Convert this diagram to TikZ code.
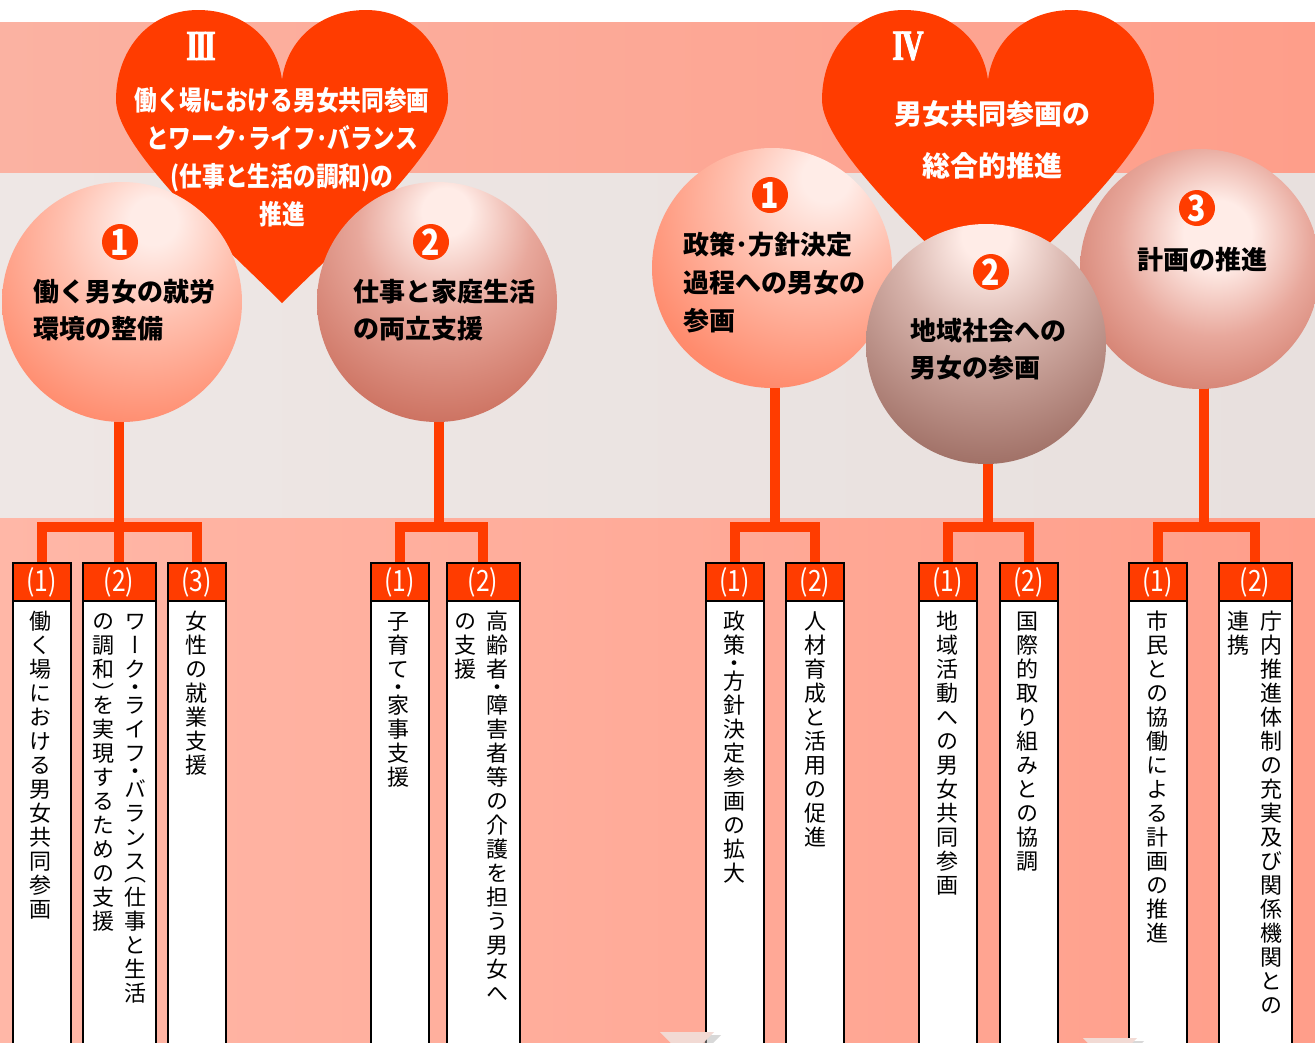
\documentclass[tikz,border=0pt]{standalone}
\usepackage{fontspec}
\usepackage{graphicx}
\usetikzlibrary{calc,backgrounds}

\newfontfamily\jp{Noto Sans CJK JP}
\newfontfamily\jpn{Noto Sans CJK JP}[FakeStretch=0.84]
\newfontfamily\jpv{Noto Sans CJK JP}[RawFeature=+vert]
\newfontfamily\romf{Liberation Serif}[FakeStretch=0.7, FakeBold=2]

\definecolor{heartred}{RGB}{255,60,0}
\definecolor{topL}{RGB}{251,178,162}
\definecolor{topR}{RGB}{254,158,138}
\definecolor{midL}{RGB}{238,231,229}
\definecolor{midR}{RGB}{232,224,222}
\definecolor{lowL}{RGB}{255,183,167}
\definecolor{lowR}{RGB}{255,158,138}
\definecolor{ballhi}{RGB}{255,236,231}
\definecolor{salmonmid}{RGB}{255,192,175}
\definecolor{salmonside}{RGB}{255,140,110}
\definecolor{salmonlo}{RGB}{250,108,78}
\definecolor{rosemid}{RGB}{232,168,156}
\definecolor{roseside}{RGB}{205,115,98}
\definecolor{roselo}{RGB}{175,82,64}
\definecolor{brownmid}{RGB}{214,178,170}
\definecolor{brownside}{RGB}{160,112,102}
\definecolor{brownlo}{RGB}{112,74,64}
\definecolor{paletri}{RGB}{242,218,212}

% ball shadings, light spot shifted up
\pgfdeclareradialshading{ballA}{\pgfpoint{7bp}{18bp}}{color(0bp)=(ballhi); color(5bp)=(ballhi); color(18bp)=(salmonmid); color(36bp)=(salmonside); color(54bp)=(salmonlo); color(80bp)=(salmonlo)}
\pgfdeclareradialshading{ballB}{\pgfpoint{2bp}{20bp}}{color(0bp)=(ballhi); color(5bp)=(ballhi); color(18bp)=(rosemid); color(36bp)=(roseside); color(54bp)=(roselo); color(80bp)=(roselo)}
\pgfdeclareradialshading{ballC}{\pgfpoint{12bp}{20bp}}{color(0bp)=(ballhi); color(5bp)=(ballhi); color(18bp)=(salmonmid); color(36bp)=(salmonside); color(54bp)=(salmonlo); color(80bp)=(salmonlo)}
\pgfdeclareradialshading{ballD}{\pgfpoint{0bp}{24bp}}{color(0bp)=(ballhi); color(5bp)=(ballhi); color(18bp)=(brownmid); color(38bp)=(brownside); color(58bp)=(brownlo); color(80bp)=(brownlo)}
\pgfdeclareradialshading{ballE}{\pgfpoint{4bp}{8bp}}{color(0bp)=(ballhi); color(7bp)=(ballhi); color(20bp)=(rosemid); color(36bp)=(roseside); color(50bp)=(roselo); color(80bp)=(roselo)}

% vertical writing: one cell per character, half cells for ・ （ ）
\newcommand\vcell[3]{\vbox to #1{\vss\hbox to 20pt{\hss\smash{#3}\hss}\kern#2}}
\def\vpick#1{%
  \ifx#1・\vcell{9pt}{-.107em}{#1}%
  \else\ifx#1（\vcell{9pt}{.165em}{#1}%
  \else\ifx#1）\vcell{9pt}{-.38em}{#1}%
  \else\vcell{18pt}{.165em}{#1}\fi\fi\fi}
\def\vloop#1{\ifx#1\relax\else\vpick{#1}\expandafter\vloop\fi}
\newcommand\vtext[1]{\vbox{\offinterlineskip\expandafter\vloop#1\relax}}

\begin{document}
\begin{tikzpicture}[x=0.75pt, y=-0.75pt,
    stem/.style={draw=heartred, line width=7.5pt},
    ball/.style={circle, minimum size=180pt, inner sep=0pt, shade},
    num/.style={circle, fill=heartred, text=white, minimum size=27pt, inner sep=0pt, font=\jpn\bfseries\fontsize{27}{27}\selectfont},
    rom/.style={text=white, inner sep=0pt, font=\romf\bfseries\fontsize{32}{32}\selectfont},
    balltxt/.style={anchor=west, align=left, inner sep=0pt, font=\jp\bfseries\fontsize{19.5}{27.75}\selectfont},
    hearttxt/.style={align=center, text=white, inner sep=0pt},
    hdr/.style={draw=black, line width=1.5pt, fill=heartred, text=white, minimum height=28.5pt, inner sep=0pt, outer sep=0pt, font=\jpn\fontsize{22}{22}\selectfont},
    body/.style={draw=black, line width=1.5pt, fill=white, minimum height=345pt, anchor=north, outer sep=0pt},
    narrow/.style={minimum width=43.5pt},
    wide/.style={minimum width=54.75pt},
    vtxt/.style={anchor=north, inner sep=0pt, font=\jpv\fontsize{16.5}{18}\selectfont}
]
\useasboundingbox (0,0) rectangle (1315,1043);

% bands and hearts
\begin{scope}[on background layer]
\fill[white] (0,0) rectangle (1315,22);
\shade[left color=topL, right color=topR] (0,22) rectangle (1315,173);
\shade[left color=midL, right color=midR] (0,173) rectangle (1315,518);
\shade[left color=lowL, right color=lowR] (0,518) rectangle (1315,1043);
\foreach \hx in {0,706} {
    \fill[heartred, shift={(\hx,0)}] (282,303) .. controls (234,255) and (116,150) .. (116,100)
        .. controls (116,50) and (149,10) .. (198,10) .. controls (244,10) and (277,40) .. (282,80)
        .. controls (287,40) and (320,10) .. (366,10) .. controls (415,10) and (448,50) .. (448,100)
        .. controls (448,150) and (330,255) .. (282,303) -- cycle;
}
\end{scope}

% heart texts
\node[rom] (r3) at (201,46) {I\kern-2pt I\kern-2pt I};
\node[hearttxt, font=\jpn\bfseries\fontsize{20.25}{28.5}\selectfont] (t3) at (282,157) {働く場における男女共同参画\\とワーク･ライフ･バランス\\(仕事と生活の調和)の\\推進};
\node[rom] (r4) at (908,46) {I\kern-1.5pt V};
\node[hearttxt, font=\jp\bfseries\fontsize{21}{39}\selectfont] (t4) at (992,140) {男女共同参画の\\総合的推進};

% balls
\node[ball, shading=ballA] (b31) at (122,302) {};
\node[ball, shading=ballB] (b32) at (437,302) {};
\node[ball, shading=ballC] (b41) at (772,268) {};
\node[ball, shading=ballE] (b43) at (1200,269) {};
\node[ball, shading=ballD] (b42) at (986,344) {};

\node[num] (n31) at (120,242) {1};
\node[num] (n32) at (431,242) {2};
\node[num] (n41) at (770,195) {1};
\node[num] (n42) at (991,272) {2};
\node[num] (n43) at (1197,208) {3};

\node[balltxt] (l31) at (33,310.5) {働く男女の就労\\環境の整備};
\node[balltxt] (l32) at (353,310.5) {仕事と家庭生活\\の両立支援};
\node[balltxt, font=\jp\bfseries\fontsize{19.5}{28.5}\selectfont] (l41) at (683,282.5) {政策･方針決定\\過程への男女の\\参画};
\node[balltxt] (l42) at (910,349.5) {地域社会への\\男女の参画};
\node[balltxt] (l43) at (1137,260) {計画の推進};

% measure boxes
\foreach \n/\x/\w/\k in {31a/41.5/narrow/1, 31b/119/wide/2, 31c/196.5/narrow/3, 32a/399.5/narrow/1, 32b/483/wide/2,
    41a/734.5/narrow/1, 41b/815/narrow/2, 42a/947.5/narrow/1, 42b/1028.5/narrow/2, 43a/1157.5/narrow/1, 43b/1255/wide/2} {
    \node[hdr, \w] (h\n) at (\x,582) {(\k)};
    \node[body, \w] (t\n) at (h\n.south) {};
}

\foreach \n/\x/\s in {31a/41/働く場における男女共同参画, 31b/135/ワーク・ライフ・バランス（仕事と生活, 31c/103/の調和）を実現するための支援,
    31d/196/女性の就業支援, 32a/398/子育て・家事支援, 32b/497/高齢者・障害者等の介護を担う男女へ, 32c/465/の支援,
    41a/734/政策・方針決定参画の拡大, 41b/815/人材育成と活用の促進, 42a/947/地域活動への男女共同参画,
    42b/1027/国際的取り組みとの協調, 43a/1157/市民との協働による計画の推進,
    43b/1271/庁内推進体制の充実及び関係機関との, 43c/1238/連携} {
    \node[vtxt] (v\n) at (\x,609) {\vtext{\s}};
}

% stems and brackets
\begin{scope}[on background layer]
\coordinate (j31) at (119,527);
\coordinate (j32) at (439,527);
\coordinate (j41) at (775,527);
\coordinate (j42) at (988,527);
\coordinate (j43) at (1204,527);
\draw[stem] (j31 |- b31) -- (j31) -- (h31b.north);
\draw[stem] (h31a.north) |- (j31) -| (h31c.north);
\foreach \j/\b/\l/\r in {j32/b32/h32a/h32b, j41/b41/h41a/h41b, j42/b42/h42a/h42b, j43/b43/h43a/h43b} {
    \draw[stem] (\j |- \b) -- (\j);
    \draw[stem] (\l.north) |- (\j) -| (\r.north);
}
\end{scope}

% pointers cut off at the bottom
\fill[black!30, opacity=0.5] (667,1035) -- (721,1035) -- (694,1062) -- cycle;
\fill[paletri] (660,1032) -- (714,1032) -- (687,1059) -- cycle;
\fill[black!30, opacity=0.5] (1090,1041) -- (1144,1041) -- (1117,1068) -- cycle;
\fill[paletri] (1083,1038) -- (1137,1038) -- (1110,1065) -- cycle;

\end{tikzpicture}
\end{document}
